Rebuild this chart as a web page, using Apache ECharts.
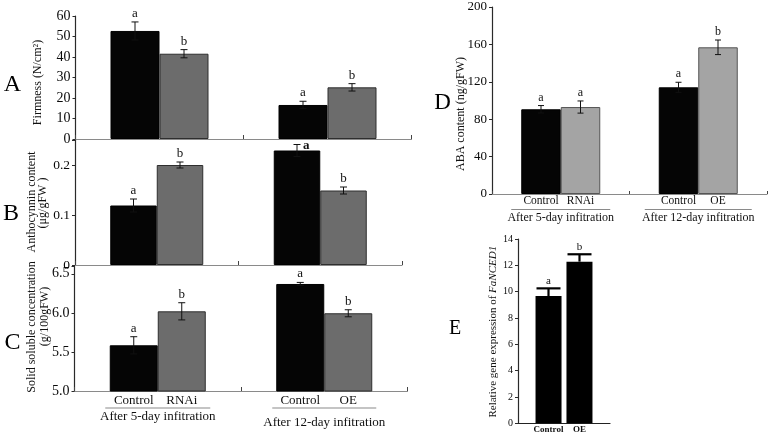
<!DOCTYPE html>
<html><head><meta charset="utf-8">
<script src="https://cdn.jsdelivr.net/npm/echarts@6/dist/echarts.min.js"></script>
<style>html,body{margin:0;padding:0;background:#fff}#c{width:771px;height:437px}</style>
</head><body><div id="c"></div>
<script>
// ---------- data ----------
const groupNames = ['After 5-day infitration', 'After 12-day infitration'];
const ctrlNames = ['Control', 'Control'];
const trtNames = ['RNAi', 'OE'];

// A: firmness
const firmTicks = [0, 10, 20, 30, 40, 50, 60];
const firmCtrl = [52.7, 16.6];
const firmCtrlErr = [4.4, 1.8];
const firmCtrlSig = ['a', 'a'];
const firmTrt = [41.6, 25.2];
const firmTrtErr = [2.0, 1.8];
const firmTrtSig = ['b', 'b'];

// B: anthocyanin
const anthoTicks = [0, 0.1, 0.2];
const anthoCtrl = [0.119, 0.229];
const anthoCtrlErr = [0.013, 0.012];
const anthoCtrlSig = ['a', 'a'];
const anthoTrt = [0.200, 0.149];
const anthoTrtErr = [0.006, 0.007];
const anthoTrtSig = ['b', 'b'];

// C: solid soluble concentration
const sscTicks = [5.0, 5.5, 6.0, 6.5];
const sscCtrl = [5.585, 6.37];
const sscCtrlErr = [0.11, 0.02];
const sscCtrlSig = ['a', 'a'];
const sscTrt = [6.02, 5.995];
const sscTrtErr = [0.11, 0.045];
const sscTrtSig = ['b', 'b'];

// D: ABA content
const abaTicks = [0, 40, 80, 120, 160, 200];
const abaCtrl = [90.6, 114.1];
const abaCtrlErr = [4.0, 5.4];
const abaCtrlSig = ['a', 'a'];
const abaTrt = [93.0, 156.9];
const abaTrtErr = [6.5, 7.8];
const abaTrtSig = ['a', 'b'];

// E: FaNCED1 relative expression
const ncedNames = ['Control', 'OE'];
const ncedTicks = [0, 2, 4, 6, 8, 10, 12, 14];
const ncedValues = [9.67, 12.28];
const ncedErr = [0.58, 0.56];
const ncedSig = ['a', 'b'];

// ---------- styles ----------
const SERIF = '"Liberation Serif", "Times New Roman", serif';
const BLACK = '#050505';
const GRAY1 = '#6c6c6c';
const GRAY2 = '#a4a4a4';

function tickFmt(ticks, digits) {
  return v => ticks.some(t => Math.abs(t - v) < 1e-9) ? (digits == null ? String(+v.toFixed(6)) : v.toFixed(digits)) : '';
}

function yAxis(gi, ticks, max, fontSize, digits) {
  return {
    type: 'value', gridIndex: gi,
    min: ticks[0], max: max, interval: ticks[1] - ticks[0],
    splitLine: { show: false },
    axisLine: { show: true, lineStyle: { color: '#2a2a2a', width: 1.2 } },
    axisTick: { show: true, inside: false, length: 3, lineStyle: { color: '#2a2a2a' } },
    axisLabel: { fontFamily: SERIF, fontSize: fontSize, color: '#0a0a0a', margin: 5,
      formatter: tickFmt(ticks, digits), showMaxLabel: true }
  };
}

function xCat(gi, labelCfg) {
  return {
    type: 'category', gridIndex: gi, data: groupNames,
    axisLine: { show: true, lineStyle: { color: '#8a8a8a', width: 1.2 } },
    axisTick: { show: true, inside: true, length: 4, lineStyle: { color: '#444' } },
    axisLabel: labelCfg || { show: false },
    splitLine: { show: false }
  };
}

function barSeries(gi, vals, color, border, w, names, lab) {
  return {
    type: 'bar', xAxisIndex: gi, yAxisIndex: gi, data: vals,
    barWidth: w, barGap: '0%', z: 2,
    itemStyle: { color: color, borderColor: border, borderWidth: 1 },
    label: names ? Object.assign({
      show: true, position: 'bottom', color: '#111', fontFamily: SERIF,
      formatter: p => names[p.dataIndex]
    }, lab) : { show: false }
  };
}

function errSeries(gi, vals, errs, sigs, o) {
  return {
    type: 'custom', xAxisIndex: gi, yAxisIndex: gi, z: 5, silent: true,
    data: vals.map((v, i) => [o.cat == null ? i : o.cat, v, errs[i]]),
    renderItem(params, api) {
      const i = params.dataIndex;
      const cat = api.value(0), v = api.value(1), e = api.value(2);
      const c = api.coord([cat, v]);
      const x = c[0] + o.dx[i];
      const yT = api.coord([cat, v + e])[1];
      const yB = o.upOnly ? c[1] : api.coord([cat, v - e])[1];
      const cw = o.cap / 2;
      const st = { stroke: o.color, lineWidth: o.lw };
      const ch = [
        { type: 'line', shape: { x1: x, y1: yB, x2: x, y2: yT }, style: st },
        { type: 'line', shape: { x1: x - cw, y1: yT, x2: x + cw, y2: yT }, style: st }
      ];
      if (!o.upOnly) ch.push({ type: 'line', shape: { x1: x - cw, y1: yB, x2: x + cw, y2: yB }, style: st });
      let lx = x, ly = yT - 2, align = 'center', va = 'bottom', fw = 'normal';
      if (o.sideIfTight && yT - 12 < params.coordSys.y) {
        lx = x + 6; ly = yT + 1; align = 'left'; va = 'middle'; fw = 'bold';
      }
      ch.push({ type: 'text', x: lx, y: ly,
        style: { text: sigs[i], fill: '#111', align: align, verticalAlign: va,
          font: fw + ' ' + o.font + 'px ' + SERIF } });
      return { type: 'group', children: ch };
    }
  };
}

function groupAxisLabel(widths, fontSize, margin, lh) {
  return {
    show: true, margin: margin, interval: 0, color: '#111',
    formatter: (v, i) => '{ln' + i + '|}\n{g' + i + '|' + v + '}',
    rich: {
      ln0: { width: widths[0], height: 1, lineHeight: 1, backgroundColor: '#8a8a8a' },
      ln1: { width: widths[1], height: 1, lineHeight: 1, backgroundColor: '#8a8a8a' },
      g0: { fontFamily: SERIF, fontSize: fontSize, lineHeight: lh[0], color: '#111' },
      g1: { fontFamily: SERIF, fontSize: fontSize, lineHeight: lh[1], color: '#111' }
    }
  };
}

const wA = 49, wB = 46.5, wC = 48, wD = 39.5, wE = 26;

const option = {
  animation: false,
  backgroundColor: '#fff',
  grid: [
    { left: 75.5, top: 16, width: 336, height: 123 },   // A
    { left: 75, top: 140, width: 327, height: 125 },    // B
    { left: 74.5, top: 266, width: 333, height: 125 },  // C
    { left: 492, top: 7, width: 275, height: 187 },     // D
    { left: 518, top: 239, width: 92, height: 184.3 }   // E
  ],
  xAxis: [
    xCat(0),
    xCat(1),
    xCat(2, groupAxisLabel([105, 104], 13, 16.5, [16, 28])),
    Object.assign(xCat(3, groupAxisLabel([99, 107], 12, 15, [16, 16])),
      { axisTick: { show: true, inside: true, length: 3, lineStyle: { color: '#444' } } }),
    { type: 'category', gridIndex: 4, data: ['FaNCED1'],
      axisLine: { show: true, lineStyle: { color: '#222', width: 1.2 } },
      axisTick: { show: false }, axisLabel: { show: false }, splitLine: { show: false } }
  ],
  yAxis: [
    yAxis(0, firmTicks, 60, 14, null),
    yAxis(1, anthoTicks, 0.25, 13.5, null),
    yAxis(2, sscTicks, 6.6, 14, 1),
    yAxis(3, abaTicks, 200, 13, null),
    yAxis(4, ncedTicks, 14, 10, null)
  ],
  series: [
    // A
    barSeries(0, firmCtrl, BLACK, '#000', wA),
    barSeries(0, firmTrt, GRAY1, '#2e2e2e', wA),
    errSeries(0, firmCtrl, firmCtrlErr, firmCtrlSig, { dx: [-wA / 2, -wA / 2], cap: 7, lw: 1, color: '#111', font: 13 }),
    errSeries(0, firmTrt, firmTrtErr, firmTrtSig, { dx: [wA / 2, wA / 2], cap: 7, lw: 1, color: '#111', font: 13 }),
    // B
    barSeries(1, anthoCtrl, BLACK, '#000', wB),
    barSeries(1, anthoTrt, GRAY1, '#2e2e2e', wB),
    errSeries(1, anthoCtrl, anthoCtrlErr, anthoCtrlSig, { dx: [-wB / 2, -wB / 2], cap: 7, lw: 1, color: '#111', font: 13, sideIfTight: true }),
    errSeries(1, anthoTrt, anthoTrtErr, anthoTrtSig, { dx: [wB / 2, wB / 2], cap: 7, lw: 1, color: '#111', font: 13, sideIfTight: true }),
    // C
    barSeries(2, sscCtrl, BLACK, '#000', wC, ctrlNames, { fontSize: 13, distance: 3 }),
    barSeries(2, sscTrt, GRAY1, '#2e2e2e', wC, trtNames, { fontSize: 13, distance: 3 }),
    errSeries(2, sscCtrl, sscCtrlErr, sscCtrlSig, { dx: [-wC / 2, -wC / 2], cap: 7, lw: 1, color: '#111', font: 13, sideIfTight: true }),
    errSeries(2, sscTrt, sscTrtErr, sscTrtSig, { dx: [wC / 2, wC / 2], cap: 7, lw: 1, color: '#111', font: 13, sideIfTight: true }),
    // D
    barSeries(3, abaCtrl, BLACK, '#000', wD, ctrlNames, { fontSize: 11.5, distance: 1 }),
    barSeries(3, abaTrt, GRAY2, '#555', wD, trtNames, { fontSize: 11.5, distance: 1 }),
    errSeries(3, abaCtrl, abaCtrlErr, abaCtrlSig, { dx: [-wD / 2, -wD / 2], cap: 6, lw: 1, color: '#111', font: 12 }),
    errSeries(3, abaTrt, abaTrtErr, abaTrtSig, { dx: [wD / 2, wD / 2], cap: 6, lw: 1, color: '#111', font: 12 }),
    // E
    { type: 'bar', xAxisIndex: 4, yAxisIndex: 4, data: [ncedValues[0]], barWidth: wE, barGap: '19%',
      itemStyle: { color: '#000' },
      label: { show: true, position: 'bottom', distance: 2, formatter: () => ncedNames[0],
        fontFamily: SERIF, fontSize: 9, fontWeight: 'bold', color: '#111' } },
    { type: 'bar', xAxisIndex: 4, yAxisIndex: 4, data: [ncedValues[1]], barWidth: wE, barGap: '19%',
      itemStyle: { color: '#000' },
      label: { show: true, position: 'bottom', distance: 2, formatter: () => ncedNames[1],
        fontFamily: SERIF, fontSize: 9, fontWeight: 'bold', color: '#111' } },
    errSeries(4, ncedValues, ncedErr, ncedSig, { cat: 0, dx: [-15.5, 15.5], cap: 24, lw: 2.2, color: '#000', font: 11, upOnly: true })
  ],
  graphic: [
    // panel letters
    { type: 'text', x: 12.5, y: 84.5, style: { text: 'A', font: '24px ' + SERIF, fill: '#000', align: 'center', verticalAlign: 'middle' } },
    { type: 'text', x: 11, y: 213.5, style: { text: 'B', font: '24px ' + SERIF, fill: '#000', align: 'center', verticalAlign: 'middle' } },
    { type: 'text', x: 12.5, y: 342.5, style: { text: 'C', font: '24px ' + SERIF, fill: '#000', align: 'center', verticalAlign: 'middle' } },
    { type: 'text', x: 442.5, y: 102.5, style: { text: 'D', font: '23px ' + SERIF, fill: '#000', align: 'center', verticalAlign: 'middle' } },
    { type: 'text', x: 455, y: 328.5, style: { text: 'E', font: '20px ' + SERIF, fill: '#000', align: 'center', verticalAlign: 'middle' } },
    // axis titles
    { type: 'text', x: 38, y: 82.5, rotation: Math.PI / 2, style: { text: 'Firmness (N/cm²)', font: '12px ' + SERIF, fill: '#111', align: 'center', verticalAlign: 'middle' } },
    { type: 'text', x: 32, y: 202, rotation: Math.PI / 2, style: { text: 'Anthocynnin content', font: '12px ' + SERIF, fill: '#111', align: 'center', verticalAlign: 'middle' } },
    { type: 'text', x: 43, y: 203, rotation: Math.PI / 2, style: { text: '(μg/gFW )', font: '12px ' + SERIF, fill: '#111', align: 'center', verticalAlign: 'middle' } },
    { type: 'text', x: 32, y: 327, rotation: Math.PI / 2, style: { text: 'Solid soluble concentration', font: '12px ' + SERIF, fill: '#111', align: 'center', verticalAlign: 'middle' } },
    { type: 'text', x: 45, y: 316.5, rotation: Math.PI / 2, style: { text: '(g/100gFW)', font: '12px ' + SERIF, fill: '#111', align: 'center', verticalAlign: 'middle' } },
    { type: 'text', x: 460.5, y: 114, rotation: Math.PI / 2, style: { text: 'ABA content (ng/gFW)', font: '12px ' + SERIF, fill: '#111', align: 'center', verticalAlign: 'middle' } },
    { type: 'text', x: 493, y: 331.7, rotation: Math.PI / 2, style: {
        text: '{n|Relative gene expression of }{i|FaNCED1}', align: 'center', verticalAlign: 'middle',
        rich: { n: { font: '11px ' + SERIF, fill: '#111' }, i: { font: 'italic 11px ' + SERIF, fill: '#111' } } } }
  ]
};

const chart = echarts.init(document.getElementById('c'), null, { renderer: 'canvas' });
chart.setOption(option);
</script>
</body></html>
